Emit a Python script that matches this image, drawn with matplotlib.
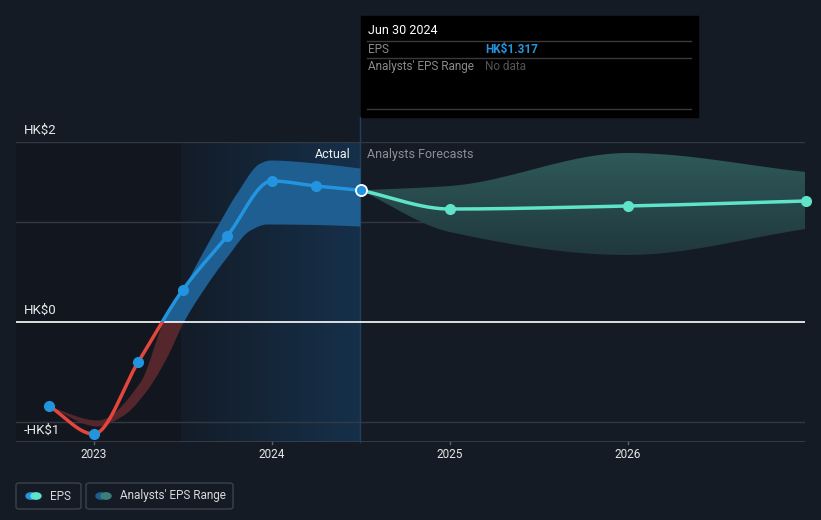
import numpy as np
import matplotlib
matplotlib.use("Agg")
import matplotlib.pyplot as plt
from matplotlib.patches import Rectangle, FancyBboxPatch, Circle
from matplotlib.colors import LinearSegmentedColormap

plt.rcParams['font.family'] = ['Roboto', 'DejaVu Sans']

# ---- data (decimal years, HK$) ----
past_x = [2022.75, 2023.0, 2023.25, 2023.5, 2023.75, 2024.0, 2024.25, 2024.5]
past_eps = [-0.84, -1.12, -0.40, 0.32, 0.86, 1.41, 1.36, 1.317]

# analysts' range at the time
band_hi_x = [2022.745, 2023.02, 2023.26, 2023.39, 2023.494, 2023.558, 2023.691, 2023.803,
             2023.934, 2023.99, 2024.25, 2024.496]
band_hi = [-0.84, -0.98, -0.60, 0.0, 0.30, 0.52, 0.95, 1.29, 1.59, 1.62, 1.59, 1.54]
band_lo_x = [2022.745, 2023.02, 2023.166, 2023.298, 2023.41, 2023.503, 2023.614, 2023.747,
             2023.878, 2023.972, 2024.25, 2024.496]
band_lo = [-0.84, -1.04, -0.93, -0.68, -0.35, 0.0, 0.32, 0.65, 0.92, 0.98, 0.975, 0.96]

fc_x = [2024.5, 2025.0, 2026.0, 2027.0]
fc_eps = [1.317, 1.13, 1.16, 1.21]
fc_hi = [1.317, 1.36, 1.69, 1.50]
fc_lo = [1.317, 0.90, 0.67, 0.93]

years = [2023, 2024, 2025, 2026]
y_labels = ["HK$2", "HK$0", "-HK$1"]
grid_vals = [1.8, 1.0, -1.0]

BG = '#151b25'
BLUE = '#2394df'
RED = '#e5453b'
MINT = '#5fe3c9'
W, H = 821, 520


def fx(x):
    return x / W


def fy(y):
    return 1 - y / H


def smooth(x, y, xs=None, n=400):
    # monotone cubic hermite, like d3 curveMonotoneX
    x = np.asarray(x, float)
    y = np.asarray(y, float)
    h = np.diff(x)
    d = np.diff(y) / h
    m = np.zeros_like(y)
    m[0], m[-1] = d[0], d[-1]
    for i in range(1, len(x) - 1):
        if d[i - 1] * d[i] <= 0:
            m[i] = 0
        else:
            m[i] = 3 * (h[i - 1] + h[i]) / ((2 * h[i] + h[i - 1]) / d[i - 1] + (h[i] + 2 * h[i - 1]) / d[i])
    if xs is None:
        xs = np.linspace(x[0], x[-1], n)
    xs = np.clip(xs, x[0], x[-1])
    i = np.clip(np.searchsorted(x, xs) - 1, 0, len(x) - 2)
    t = (xs - x[i]) / h[i]
    h00 = 2 * t**3 - 3 * t**2 + 1
    h10 = t**3 - 2 * t**2 + t
    h01 = -2 * t**3 + 3 * t**2
    h11 = t**3 - t**2
    ys = h00 * y[i] + h10 * h[i] * m[i] + h01 * y[i + 1] + h11 * h[i] * m[i + 1]
    return xs, ys


fig = plt.figure(figsize=(8.21, 5.2), dpi=100)
fig.patch.set_facecolor(BG)
ax = fig.add_axes([fx(16), fy(442), (805 - 16) / W, 300 / H])
ax.set_facecolor(BG)
x0, x1 = 2022.5636, 2026.9955
y0, y1 = -1.2, 1.8
for s in ax.spines.values():
    s.set_visible(False)
ax.set_xticks([])
ax.set_yticks([])

# background regions
ax.axvspan(x0, 2023.49, color='#12171f', zorder=0, lw=0)
grad = np.linspace(0, 1, 256).reshape(1, -1)
bgcmap = LinearSegmentedColormap.from_list('bg', ['#131c28', '#16304a'])
ax.imshow(grad, cmap=bgcmap, extent=[2023.49, 2024.495, y0, y1], aspect='auto', zorder=0)

# gridlines
for v in grid_vals:
    ax.axhline(v, color='#323943', lw=1, zorder=1)
ax.axhline(y0 + 0.003, color='#3a414b', lw=1.2, zorder=1)
ax.axhline(0, color='white', lw=1.2, zorder=4)

# divider
ax.plot([2024.495, 2024.495], [y0, 1.8 + 0.25], color='#22405e', lw=1, zorder=2, clip_on=False)

clip_pos = Rectangle((x0, 0), x1 - x0, 5, transform=ax.transData)
clip_neg = Rectangle((x0, -5), x1 - x0, 5, transform=ax.transData)

# past analysts band
bx = np.linspace(band_hi_x[0], band_hi_x[-1], 500)
_, bhi = smooth(band_hi_x, band_hi, bx)
_, blo = smooth(band_lo_x, band_lo, bx)
pb = ax.fill_between(bx, blo, bhi, color='#1e5e91', lw=0, zorder=2)
pb.set_clip_path(clip_pos)
nb = ax.fill_between(bx, blo, bhi, color='#55272d', lw=0, zorder=2)
nb.set_clip_path(clip_neg)

# forecast band with gradient
fxs, fhi = smooth(fc_x, fc_hi)
_, flo = smooth(fc_x, fc_lo)
fb = ax.fill_between(fxs, flo, fhi, color='none', lw=0, zorder=2)
fcmap = LinearSegmentedColormap.from_list('fc', ['#1f363c', '#2f5a5a'])
im = ax.imshow(np.linspace(0, 1, 256).reshape(-1, 1), cmap=fcmap, origin='lower',
               extent=[fc_x[0], fc_x[-1], 0.6, 1.72], aspect='auto', zorder=2)
im.set_clip_path(fb.get_paths()[0], transform=ax.transData)
ax.set_xlim(x0, x1)
ax.set_ylim(y0, y1)

# past EPS line
lx, ly = smooth(past_x, past_eps)
lp, = ax.plot(lx, ly, color=BLUE, lw=2.5, zorder=5, solid_capstyle='round')
lp.set_clip_path(clip_pos)
ln, = ax.plot(lx, ly, color=RED, lw=2.5, zorder=5, solid_capstyle='round')
ln.set_clip_path(clip_neg)
ax.plot(past_x[:-1], past_eps[:-1], 'o', color=BLUE, ms=7, zorder=6)

# forecast line
gx, gy = smooth(fc_x, fc_eps)
ax.plot(gx, gy, color=MINT, lw=2.5, zorder=5, clip_on=False)
ax.plot(fc_x[1:], fc_eps[1:], 'o', color=MINT, ms=7, zorder=6, clip_on=False)
ax.plot([past_x[-1]], [past_eps[-1]], 'o', color=BLUE, ms=8, mec='white', mew=1.3, zorder=7)

# x ticks
for yr in years:
    ax.plot([yr, yr], [y0, y0 - 0.015], color='#5a616b', lw=1, clip_on=False)
    fig.text(fx(93.7 + (yr - 2023) * 178.03), fy(455), str(yr), color='#e6e6e6',
             fontsize=8.5, ha='center', va='center')

# y labels
for lab, ypix in zip(y_labels, [130, 310, 430]):
    fig.text(fx(24), fy(ypix), lab, color='#e8e8e8', fontsize=9.5, ha='left', va='center')

fig.text(fx(351), fy(154), "Actual", color='#f0f0f0', fontsize=9, ha='right', va='center')
fig.text(fx(367), fy(154), "Analysts Forecasts", color='#8a8f96', fontsize=9, ha='left', va='center')

# tooltip
fig.patches.append(Rectangle((fx(361), fy(117)), (698 - 361) / W, (117 - 16) / H,
                             transform=fig.transFigure, color='black', zorder=10))
for yl in [41, 58, 109]:
    fig.lines.append(plt.Line2D([fx(367), fx(691)], [fy(yl), fy(yl)], transform=fig.transFigure,
                                color='#3a3a3a', lw=1, zorder=11))
fig.text(fx(368), fy(31), "Jun 30 2024", color='white', fontsize=9, va='center', zorder=12)
fig.text(fx(368), fy(49.5), "EPS", color='#8a8a8a', fontsize=8.5, va='center', zorder=12)
fig.text(fx(485), fy(49.5), "HK$1.317", color=BLUE, fontsize=8.5, fontweight='bold', va='center', zorder=12)
fig.text(fx(368), fy(66.5), "Analysts' EPS Range", color='#8a8a8a', fontsize=8.5, va='center', zorder=12)
fig.text(fx(485), fy(66.5), "No data", color='#555555', fontsize=8.5, va='center', zorder=12)

# legend
for (bxl, bxr) in [(16, 81), (86, 233)]:
    fig.patches.append(FancyBboxPatch((fx(bxl), fy(509)), (bxr - bxl) / W, 26 / H,
                                      boxstyle='round,pad=0,rounding_size=0.004',
                                      transform=fig.transFigure, fc='none', ec='#3c424c', lw=1))
for cx, c1, c2, lab in [(31, BLUE, MINT, "EPS"), (101, '#1d5d8f', '#3c7f7a', "Analysts' EPS Range")]:
    for dx, col in [(0, c1), (5, c2)]:
        fig.patches.append(Circle((fx(cx + dx), fy(496)), 5 / W, transform=fig.transFigure,
                                  color=col, zorder=5))
    fig.text(fx(cx + 19), fy(496), lab, color='#d8d8d8', fontsize=8.5, va='center')

fig.savefig("out.png", dpi=100, facecolor=BG)
